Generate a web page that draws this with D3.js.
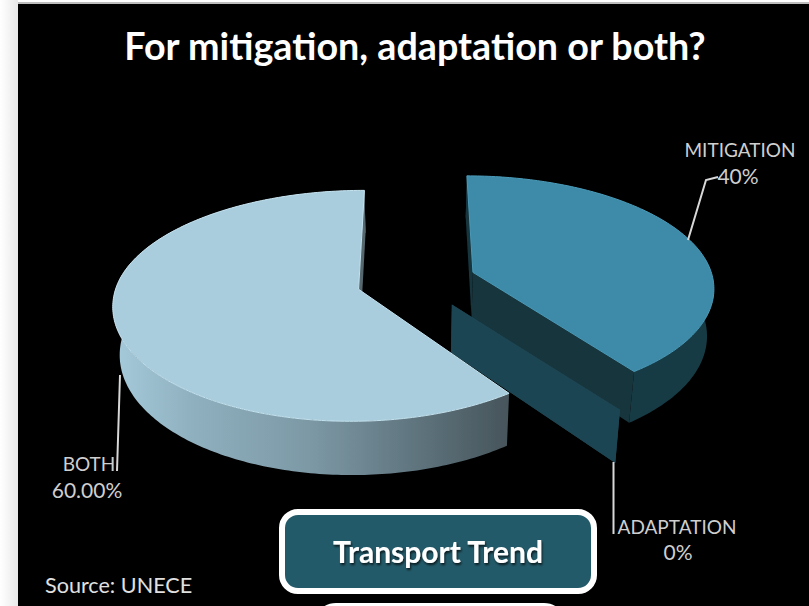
<!DOCTYPE html>
<html><head><meta charset="utf-8">
<script src="https://cdn.jsdelivr.net/npm/d3@7"></script>
<style>html,body{margin:0;padding:0;background:#fff}svg{display:block}text{font-family:Lato,"Open Sans",sans-serif}</style>
</head><body><svg id="c" width="809" height="606"></svg>
<script>
const categories = ["MITIGATION","ADAPTATION","BOTH"];
const seriesValues = [40,0,60];
const valueLabels = ["40%","0%","60.00%"];
const title = "For mitigation, adaptation or both?";
const topColors = ["#3d8ba8","#1f4552","#a9cddd"];
const innerColors = ["#17353e","#1f4552","#56676e"];
const outerColor = "#183a44";
const explode = [0.25,0.25,0.235];
const radius = [0.97,0.99,0.96];
const leftStretch = [1,1,1.012];
const frontStretch = [1.03,1,1.05];

const W=809,H=606;
const svg=d3.select("#c");
const defs=svg.append("defs");
const sh=defs.append("linearGradient").attr("id","edge").attr("x1",0).attr("x2",1).attr("y1",0).attr("y2",0);
sh.append("stop").attr("offset",0).attr("stop-color","#ffffff");
sh.append("stop").attr("offset",1).attr("stop-color","#e9e9e9");
const wg=defs.append("linearGradient").attr("id","wallBoth").attr("gradientUnits","userSpaceOnUse")
  .attr("x1",112).attr("x2",511).attr("y1",0).attr("y2",0);
[[0,"#a6cbdb"],[0.2,"#8fb0bf"],[0.5,"#7c98a5"],[0.8,"#5b6f78"],[1,"#46545a"]].forEach(s=>wg.append("stop").attr("offset",s[0]).attr("stop-color",s[1]));
const fb=defs.append("filter").attr("id","soft").attr("x","-5%").attr("y","-5%").attr("width","110%").attr("height","110%");
fb.append("feGaussianBlur").attr("stdDeviation",0.5);
const ts=defs.append("filter").attr("id","tshadow").attr("x","-10%").attr("y","-20%").attr("width","120%").attr("height","150%");
ts.append("feDropShadow").attr("dx",1).attr("dy",2).attr("stdDeviation",1.2).attr("flood-color","#000").attr("flood-opacity",0.7);

svg.append("rect").attr("width",W).attr("height",H).attr("fill","#fff");
svg.append("rect").attr("x",0).attr("y",0).attr("width",18).attr("height",H).attr("fill","url(#edge)");
svg.append("rect").attr("x",18).attr("y",2).attr("width",W-18).attr("height",2).attr("fill","#bdbdbd");
svg.append("rect").attr("x",18).attr("y",4).attr("width",W-18).attr("height",H-4).attr("fill","#000");

svg.append("text").attr("x",415).attr("y",60).attr("text-anchor","middle")
  .attr("font-size",37.7).attr("font-weight",700).attr("fill","#fff").text(title);

// projection of the tilted pie plane
const cx=414.5,cy=281,Rx=248,Ry=113,p=0.12,depth=52,tilt=0.977;
function proj(U,V){const w=1+p*V;return [cx+Rx*U/w,cy-Ry*V/w,w];}
function low(P){return [cx+(P[0]-cx)*tilt,P[1]+depth/P[2]*0.9];}
const pie=d3.pie().sort(null).value(d=>d)(seriesValues);
const line=d3.line();
const pieG=svg.append("g").attr("filter","url(#soft)");

pie.forEach((s,i)=>{
  const mid=(s.startAngle+s.endAngle)/2, e=explode[i], r=radius[i];
  const ou=e*Math.sin(mid), ov=e*Math.cos(mid);
  const at=a=>{
    const su=Math.sin(a),cv=Math.cos(a);
    return proj(ou+r*su*(su<0?leftStretch[i]:1),ov+r*cv*(cv<0?frontStretch[i]:1));
  };
  const apex=proj(ou,ov);
  const n=Math.max(2,Math.round((s.endAngle-s.startAngle)*60));
  const rim=d3.range(n+1).map(k=>at(s.startAngle+(s.endAngle-s.startAngle)*k/n));
  const g=pieG.append("g").attr("class","slice");
  if(s.endAngle>s.startAngle){
    const wallFill=i===2?"url(#wallBoth)":outerColor;
    g.append("path").attr("fill",wallFill)
     .attr("d",line(rim.map(q=>[q[0],q[1]]).concat(rim.slice().reverse().map(low)))+"Z");
  }
  // the larger slice's start face turns away from the viewer
  const faces=i===2?[rim[rim.length-1]]:[rim[0],rim[rim.length-1]];
  faces.forEach(q=>{
    g.append("path").attr("fill",innerColors[i])
     .attr("d",line([[apex[0],apex[1]],[q[0],q[1]],low(q),low(apex)])+"Z");
  });
  if(s.endAngle>s.startAngle){
    g.append("path").attr("fill",topColors[i])
     .attr("stroke",i===2?"#c4e2ef":"#4a9ab8").attr("stroke-width",1)
     .attr("d",line([[apex[0],apex[1]]].concat(rim.map(q=>[q[0],q[1]])))+"Z");
  }
});

// leaders
const leaders=[[[688,240],[706,180],[718,177]],[[613.5,462],[613.5,534]],[[120,375],[117,471]]];
leaders.forEach(l=>svg.append("path").attr("d",line(l)).attr("fill","none").attr("stroke","#d8d8d8").attr("stroke-width",2));

// labels
const labelPos=[[740,157,738,184],[677,534,678,560],[89,471,87,498]];
categories.forEach((c,i)=>{
  const q=labelPos[i];
  svg.append("text").attr("x",q[0]).attr("y",q[1]).attr("text-anchor","middle").attr("font-size",19).attr("fill","#cfcfcf").text(c);
  svg.append("text").attr("x",q[2]).attr("y",q[3]).attr("text-anchor","middle").attr("font-size",21).attr("fill","#cfcfcf").text(valueLabels[i]);
});
svg.append("text").attr("x",45).attr("y",593).attr("font-size",21.6).attr("fill","#e0e0e0").text("Source: UNECE");

// boxes
svg.append("rect").attr("x",282).attr("y",512).attr("width",312).attr("height",79).attr("rx",16)
  .attr("fill","#235a69").attr("stroke","#fff").attr("stroke-width",6);
svg.append("text").attr("x",438).attr("y",563).attr("text-anchor","middle").attr("font-size",30).attr("font-weight",700)
  .attr("fill","#fff").attr("filter","url(#tshadow)").text("Transport Trend");
svg.append("rect").attr("x",320).attr("y",603).attr("width",240).attr("height",20).attr("rx",16).attr("fill","#fff");
</script></body></html>
